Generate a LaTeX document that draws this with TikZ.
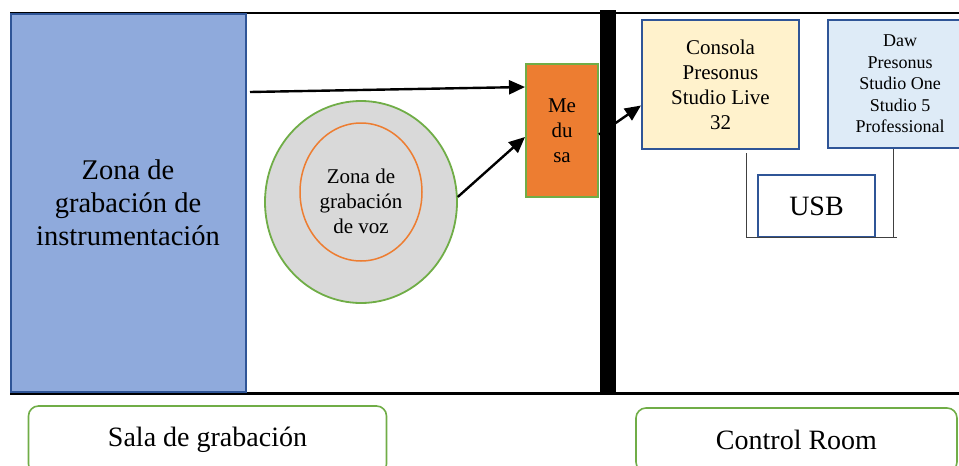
\documentclass[tikz,border=0pt]{standalone}
\usepackage{fontspec}
\setmainfont{Liberation Serif}
\usetikzlibrary{shapes.geometric,arrows.meta,calc}
\definecolor{bluefill}{HTML}{8FAADC}
\definecolor{darkblue}{HTML}{2F5597}
\definecolor{orangefill}{HTML}{ED7D31}
\definecolor{greenline}{HTML}{70AD47}
\definecolor{grayfill}{HTML}{D9D9D9}
\definecolor{yellowfill}{HTML}{FFF2CC}
\definecolor{lightblue}{HTML}{DEEBF7}
\tikzset{
  box/.style={rectangle, inner sep=0pt, align=center},
  arr/.style={line width=2.4pt, -{Triangle[length=16pt,width=14pt]}},
  thinline/.style={line width=1pt, draw=black!75},
  label/.style={rectangle, rounded corners=10pt, draw=greenline, line width=1.6pt, inner sep=0pt, font=\fontsize{28}{32}\selectfont}
}
\begin{document}
\begin{tikzpicture}[x=1pt,y=-1pt]
\useasboundingbox (0,0) rectangle (959,466);
\clip (0,0) rectangle (959,466);
% frame lines
\draw[line width=2pt] (10,13) -- (959,13);
\draw[line width=2.5pt] (10,393.5) -- (959,393.5);
% instrument zone
\node[box, fill=bluefill, draw=darkblue, line width=2pt, minimum width=235pt, minimum height=378pt,
      font=\fontsize{28.5}{33}\selectfont] (instr) at (128,203) {Zona de\\grabación de\\instrumentación};
% voice zone
\node[ellipse, fill=grayfill, draw=greenline, line width=1.8pt, minimum width=192pt, minimum height=202pt, inner sep=0pt] (voz) at (361,202) {};
\node[ellipse, draw=orangefill, line width=1.5pt, minimum width=122pt, minimum height=138pt, inner sep=0pt] (vozin) at (361,192) {};
\node[box, font=\fontsize{21}{25}\selectfont] (voztxt) at (361,201) {Zona de\\grabación\\de voz};
% Medusa
\node[box, fill=orangefill, draw=greenline, line width=2pt, minimum width=72pt, minimum height=133pt,
      font=\fontsize{21}{25}\selectfont] (med) at (562,130.5) {Me\\du\\sa};
% Consola
\node[box, fill=yellowfill, draw=darkblue, line width=2pt, minimum width=157pt, minimum height=129pt,
      font=\fontsize{21}{25}\selectfont] (cons) at (720.5,84.5) {Consola\\Presonus\\Studio Live\\32};
% Daw
\node[box, fill=lightblue, draw=darkblue, line width=2pt, minimum width=144pt, minimum height=128pt,
      font=\fontsize{18}{21.5}\selectfont] (daw) at (900,84) {Daw\\Presonus\\Studio One\\Studio 5\\Professional};
% USB
\node[box, fill=white, draw=darkblue, line width=2pt, minimum width=117pt, minimum height=62pt,
      font=\fontsize{28}{32}\selectfont] (usb) at (816.5,206) {USB};
% thin connection lines
\coordinate (c1) at (746,153);
\coordinate (c2) at (746,237);
\coordinate (d1) at (893,149);
\coordinate (d2) at (893,238);
\coordinate (d3) at (897,237);
\draw[thinline] (c1) -- (c2) -- (d3);
\draw[thinline] (d1) -- (d2);
% arrows
\coordinate (a1s) at (250,92);
\draw[arr] (a1s) -- ($(med.north west)+(0,24)$);
\draw[arr] (voz.3) -- ($(med.north west)+(0,74)$);
\draw[arr] ($(med.east)+(0,4)$) -- ($(cons.west)+(0,21)$);
% wall bar
\fill[black] (600,10) rectangle (616,393);
% labels
\node[label, minimum width=358pt, minimum height=68pt] (sala) at (207.5,440) {Sala de grabación};
\node[label, minimum width=321pt, minimum height=64pt] (ctrl) at (796.5,440) {Control Room};
\end{tikzpicture}
\end{document}
